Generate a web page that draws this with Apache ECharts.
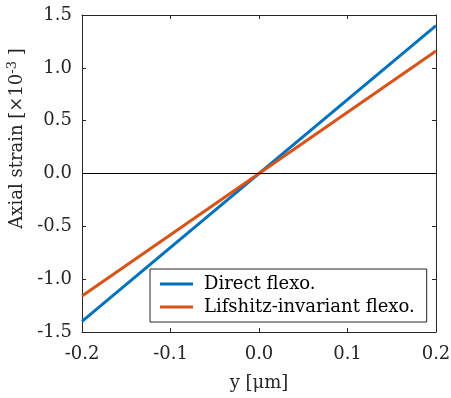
<!DOCTYPE html>
<html>
<head>
<meta charset="utf-8">
<script src="https://cdn.jsdelivr.net/npm/echarts@6/dist/echarts.min.js"></script>
<style>html,body{margin:0;padding:0;background:#fff;}#c{width:451px;height:398px;}</style>
</head>
<body>
<div id="c"></div>
<script>
const xValues = [-0.2, 0.2];
const directFlexo = [-1.4, 1.4];
const lifshitzFlexo = [-1.16, 1.16];
const seriesNames = ['Direct flexo.', 'Lifshitz-invariant flexo.'];
const colors = ['#0072BD', '#D95319'];

const FONT = 'DejaVu Serif';
const FS = 18;
const TXT = '#262626';
const chart = echarts.init(document.getElementById('c'), null, {renderer: 'canvas'});
const axisCommon = {
  axisLine: {show: true, onZero: false, lineStyle: {color: TXT, width: 1}},
  axisTick: {show: true, inside: true, length: 4, lineStyle: {color: TXT}},
  splitLine: {show: false}
};
chart.setOption({
  animation: false,
  backgroundColor: '#fff',
  grid: {left: 82, right: 15, top: 15, bottom: 66, containLabel: false, outerBoundsMode: 'none'},
  legend: {
    left: 150, top: 269, orient: 'vertical',
    data: seriesNames,
    itemWidth: 33, itemHeight: 3, itemGap: 5,
    icon: 'rect',
    backgroundColor: '#fff', borderColor: TXT, borderWidth: 1,
    padding: [6, 12, 6, 10],
    textStyle: {fontFamily: FONT, fontSize: FS, color: '#000', padding: [0, 0, 0, 6]}
  },
  xAxis: [
    Object.assign({}, axisCommon, {
      type: 'value', min: -0.2, max: 0.2, interval: 0.1, position: 'bottom',
      name: 'y [μm]', nameLocation: 'middle', nameGap: 42,
      nameTextStyle: {fontFamily: FONT, fontSize: FS, color: TXT},
      axisLabel: {fontFamily: FONT, fontSize: FS, color: TXT, margin: 13,
        formatter: v => v.toFixed(1)}
    }),
    Object.assign({}, axisCommon, {
      type: 'value', min: -0.2, max: 0.2, interval: 0.1, position: 'top',
      axisLabel: {show: false}
    })
  ],
  yAxis: [
    Object.assign({}, axisCommon, {
      type: 'value', min: -1.5, max: 1.5, interval: 0.5, position: 'left',
      name: '{n|Axial strain [×10}{s|-3}{n| ]}', nameLocation: 'middle', nameGap: 38,
      nameTextStyle: {fontFamily: FONT, fontSize: FS, color: TXT, padding: [0, 0, 0, 70],
        rich: {n: {fontFamily: FONT, fontSize: FS, color: TXT},
               s: {fontFamily: FONT, fontSize: 13, color: TXT, verticalAlign: 'top', padding: [0,0,9,0]}}},
      axisLabel: {fontFamily: FONT, fontSize: FS, color: TXT, margin: 10,
        formatter: v => v.toFixed(1)}
    }),
    Object.assign({}, axisCommon, {
      type: 'value', min: -1.5, max: 1.5, interval: 0.5, position: 'right',
      axisLabel: {show: false}
    })
  ],
  series: [
    {
      name: seriesNames[0], type: 'line', symbol: 'none',
      data: xValues.map((x, i) => [x, directFlexo[i]]),
      lineStyle: {color: colors[0], width: 3}, itemStyle: {color: colors[0]},
      markLine: {silent: true, symbol: 'none', label: {show: false},
        lineStyle: {color: '#000', width: 1, type: 'solid'}, data: [{yAxis: 0}]},
      z: 3
    },
    {
      name: seriesNames[1], type: 'line', symbol: 'none',
      data: xValues.map((x, i) => [x, lifshitzFlexo[i]]),
      lineStyle: {color: colors[1], width: 3}, itemStyle: {color: colors[1]},
      z: 4
    }
  ]
});
</script>
</body>
</html>
